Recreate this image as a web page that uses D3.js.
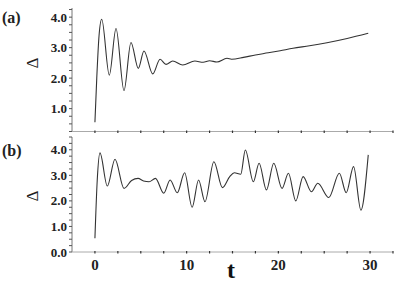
<!DOCTYPE html>
<html><head><meta charset="utf-8">
<script src="https://cdn.jsdelivr.net/npm/d3@7"></script>
<style>body{margin:0;background:#fff}svg{display:block}
text{font-family:"Liberation Serif","Times New Roman","DejaVu Serif",serif}</style>
</head><body>
<svg id="c" width="409" height="282"></svg>
<script>
// Panel (a) data
const tA = [0, 0.2, 0.45, 0.74, 1.57, 2.3, 3.17, 3.93, 4.73, 5.35, 6.3, 7.1, 7.75, 8.48, 9.57, 10.9, 11.8, 12.5, 13.3, 14.4, 14.9, 16.2, 17.5, 18.9, 20.2, 21.6, 23.4, 25.3, 27.5, 29.8];
const dA = [0.55, 2.0, 3.4, 3.93, 2.1, 3.63, 1.59, 3.17, 2.32, 2.89, 2.14, 2.62, 2.45, 2.56, 2.43, 2.56, 2.52, 2.57, 2.53, 2.65, 2.62, 2.68, 2.76, 2.83, 2.9, 2.98, 3.06, 3.16, 3.3, 3.47];
// Panel (b) data
const tB = [0, 0.25, 0.55, 1.35, 2.19, 3.17, 4.0, 4.7, 5.3, 5.9, 6.6, 7.5, 8.2, 8.98, 9.78, 10.6, 11.3, 12.0, 12.97, 13.9, 14.7, 15.2, 15.9, 16.4, 17.27, 17.9, 18.7, 19.5, 20.4, 21.1, 21.9, 22.7, 23.6, 24.3, 25.5, 26.65, 27.4, 28.2, 29.0, 29.8];
const dB = [0.54, 2.8, 3.88, 2.58, 3.63, 2.49, 2.8, 2.88, 2.78, 2.75, 2.88, 2.3, 2.82, 2.32, 3.1, 1.75, 2.82, 1.97, 3.53, 2.52, 2.95, 3.1, 3.04, 3.99, 2.75, 3.47, 2.43, 3.47, 2.49, 3.08, 2.0, 2.95, 2.36, 2.69, 2.13, 3.08, 2.32, 3.34, 1.64, 3.8];
const xTickLabels = [0, 10, 20, 30];
const yTickLabels = [1, 2, 3, 4];
const yTickLabelsB = [0, 1, 2, 3, 4];

const svg = d3.select("#c");
const x = d3.scaleLinear().domain([-2.5, 32.5]).range([72, 393]);
const yA = d3.scaleLinear().domain([0.25, 4.3]).range([131.5, 8]);
const yB = d3.scaleLinear().domain([0, 4.5]).range([252, 137]);

function panel(y, ymin, ymax, labels, ts, ds, tag, tagY) {
  const g = svg.append("g");
  g.append("line").attr("x1", x.range()[0]).attr("x2", x.range()[0])
    .attr("y1", y(ymin)).attr("y2", y.range()[1]).attr("stroke", "#777").attr("stroke-width", 1);
  const yt = d3.range(ymin, ymax + 0.001, 0.25);
  g.selectAll(".yt").data(yt).join("line")
    .attr("x1", x.range()[0] - 3).attr("x2", x.range()[0])
    .attr("y1", d => y(d)).attr("y2", d => y(d)).attr("stroke", "#555").attr("stroke-width", 1);
  g.selectAll(".yl").data(labels).join("text")
    .attr("x", 67).attr("y", d => y(d)).attr("dy", "0.35em")
    .attr("text-anchor", "end").attr("font-weight", "bold")
    .attr("font-size", 13).attr("fill", "#222").text(d => d3.format(".1f")(d));
  const y0 = y(ymin);
  g.append("line").attr("x1", x.range()[0]).attr("x2", x.range()[1])
    .attr("y1", y0).attr("y2", y0).attr("stroke", "#aaa").attr("stroke-width", 1);
  const xt = d3.range(0, 32.6, 2.5);
  g.selectAll(".xt").data(xt).join("line")
    .attr("x1", d => x(d)).attr("x2", d => x(d))
    .attr("y1", y0 - 1).attr("y2", y0 + 1.5).attr("stroke", "#333").attr("stroke-width", 1.2);
  const pts = ts.map((t, i) => [t, ds[i]]);
  const line = d3.line().x(d => x(d[0])).y(d => y(d[1])).curve(d3.curveMonotoneX);
  g.append("path").attr("d", line(pts)).attr("fill", "none")
    .attr("stroke", "#333").attr("stroke-width", 1.1);
  g.append("text").attr("transform", `translate(32,${tagY.delta}) rotate(-90)`)
    .attr("text-anchor", "middle").attr("dy", "0.35em")
    .attr("font-size", 17).attr("fill", "#222").text("Δ");
  g.append("text").attr("x", 2).attr("y", tagY.tag)
    .attr("font-weight", "bold").attr("font-size", 16)
    .attr("fill", "#222").text(tag);
}

panel(yA, 0.25, 4.25, yTickLabels, tA, dA, "(a)", {tag: 23, delta: 63});
panel(yB, 0, 4.5, yTickLabelsB, tB, dB, "(b)", {tag: 156, delta: 196});

svg.selectAll(".xl").data(xTickLabels).join("text")
  .attr("x", d => x(d)).attr("y", 270).attr("text-anchor", "middle")
  .attr("font-weight", "bold").attr("font-size", 15)
  .attr("fill", "#222").text(d => d);
svg.append("text").attr("x", 231).attr("y", 278).attr("text-anchor", "middle")
  .attr("font-weight", "bold").attr("font-size", 24)
  .attr("fill", "#111").text("t");
</script>
</body></html>
